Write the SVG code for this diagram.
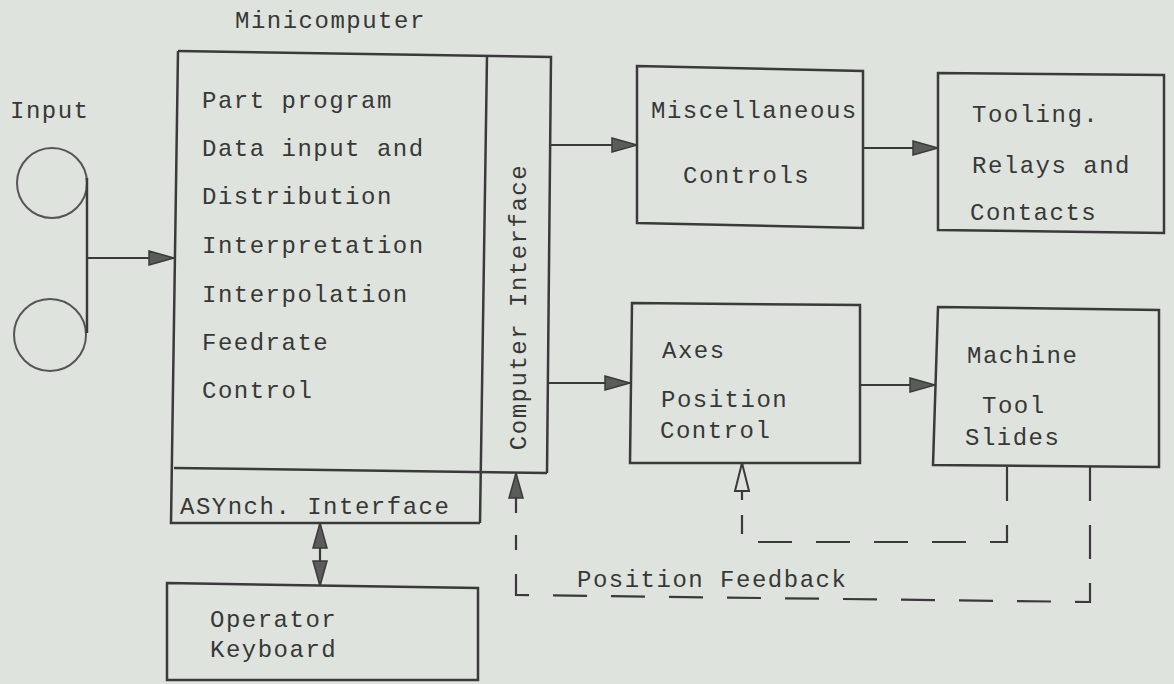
<svg xmlns="http://www.w3.org/2000/svg" width="1174" height="684" viewBox="0 0 1174 684">
<style>
.bg{fill:#dfe3de}
.box{fill:none;stroke:#3a3a3a;stroke-width:2.5;stroke-linejoin:miter}
.thin{fill:none;stroke:#555;stroke-width:2}
.conn{fill:none;stroke:#3a3a3a;stroke-width:2.2}
.dash{fill:none;stroke:#3a3a3a;stroke-width:2.2;stroke-dasharray:34 24}
.t{font-family:"Liberation Mono","DejaVu Sans Mono",monospace;font-size:24px;letter-spacing:1.5px;fill:#363836}
</style>
<defs>
<marker id="ah" markerUnits="userSpaceOnUse" viewBox="0 0 26 16" markerWidth="26" markerHeight="16" refX="26" refY="8" orient="auto-start-reverse">
<path d="M1,1 L26,8 L1,15 Z" fill="#5a5c5a" stroke="#3a3a3a" stroke-width="1.5"/>
</marker>
<marker id="ahOpen" markerUnits="userSpaceOnUse" viewBox="0 0 30 18" markerWidth="30" markerHeight="18" refX="29" refY="9" orient="auto">
<path d="M1,2 L29,9 L1,16 Z" fill="#dfe3de" stroke="#3a3a3a" stroke-width="2"/>
</marker>
</defs>
<rect class="bg" x="0" y="0" width="1174" height="684"/>

<g id="input">
<circle class="thin" cx="52" cy="183" r="35"/>
<circle class="thin" cx="50" cy="335" r="36"/>
<path class="box" d="M87,178 L87,333"/>
<text class="t" x="10" y="118">Input</text>
</g>

<g id="minicomputer">
<text class="t" x="235" y="28">Minicomputer</text>
<path class="box" d="M178,51 L551,57 L547,473"/>
<path class="box" d="M174,468 L547,473"/>
<path class="box" d="M178,51 L171,523 L480,523"/>
<path class="box" d="M487,56 L480,523"/>
<text class="t" x="202" y="108">Part program</text>
<text class="t" x="202" y="156">Data input and</text>
<text class="t" x="202" y="204">Distribution</text>
<text class="t" x="202" y="253">Interpretation</text>
<text class="t" x="202" y="302">Interpolation</text>
<text class="t" x="202" y="350">Feedrate</text>
<text class="t" x="202" y="398">Control</text>
</g>

<g id="computer-interface">
<text class="t" text-anchor="middle" transform="translate(526 307) rotate(-90)">Computer Interface</text>
</g>

<g id="asynch-interface">
<text class="t" x="180" y="514">ASYnch. Interface</text>
</g>

<g id="operator-keyboard">
<path class="box" d="M167,583 L478,588 L478,680 L167,680 Z"/>
<text class="t" x="210" y="627">Operator</text>
<text class="t" x="210" y="657">Keyboard</text>
</g>

<g id="misc-controls">
<path class="box" d="M637,66 L863,71 L863,228 L637,223 Z"/>
<text class="t" x="651" y="118">Miscellaneous</text>
<text class="t" x="683" y="183">Controls</text>
</g>

<g id="tooling">
<path class="box" d="M938,73 L1164,75 L1164,233 L938,230 Z"/>
<text class="t" x="972" y="122">Tooling.</text>
<text class="t" x="972" y="173">Relays and</text>
<text class="t" x="970" y="220">Contacts</text>
</g>

<g id="axes-position-control">
<path class="box" d="M632,303 L860,305 L860,463 L630,463 Z"/>
<text class="t" x="662" y="358">Axes</text>
<text class="t" x="661" y="407">Position</text>
<text class="t" x="660" y="438">Control</text>
</g>

<g id="machine-tool-slides">
<path class="box" d="M938,307 L1159,310 L1159,467 L933,465 Z"/>
<text class="t" x="967" y="363">Machine</text>
<text class="t" x="982" y="413">Tool</text>
<text class="t" x="965" y="445">Slides</text>
</g>

<g id="connectors">
<path class="conn" d="M87,258 L174,258" marker-end="url(#ah)"/>
<path class="conn" d="M551,145 L637,145" marker-end="url(#ah)"/>
<path class="conn" d="M863,148 L938,148" marker-end="url(#ah)"/>
<path class="conn" d="M547,383 L630,383" marker-end="url(#ah)"/>
<path class="conn" d="M860,385 L935,385" marker-end="url(#ah)"/>
<path class="conn" d="M320,523 L320,586" marker-start="url(#ah)" marker-end="url(#ah)"/>
<path class="dash" d="M1007,467 L1007,542 L742,542 L742,515"/>
<path class="conn" d="M742,500 L742,463" marker-end="url(#ahOpen)"/>
<path class="dash" d="M1090,467 L1090,602 L516,595 L516,535"/>
<path class="conn" d="M516,513 L516,473" marker-end="url(#ah)"/>
<text class="t" x="577" y="587">Position Feedback</text>
</g>
</svg>
